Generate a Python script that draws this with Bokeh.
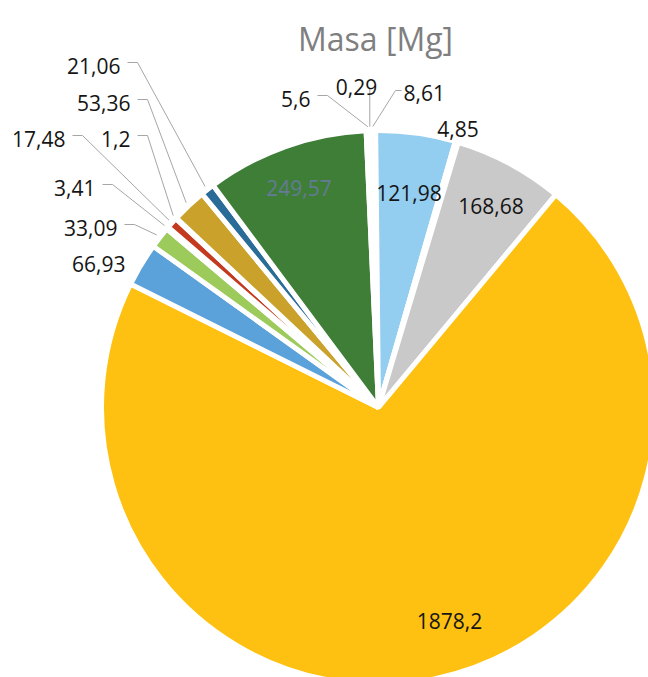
import math
from bokeh.plotting import figure
from bokeh.models import Range1d, ColumnDataSource
from bokeh.core.properties import value
from bokeh.embed import file_html
from bokeh.resources import INLINE

# ---------------- data ----------------
chart_title = "Masa [Mg]"
values = [0.29, 8.61, 121.98, 4.85, 168.68, 1878.2, 66.93, 33.09, 3.41,
          17.48, 1.2, 53.36, 21.06, 249.57, 5.6]
labels = ["0,29", "8,61", "121,98", "4,85", "168,68", "1878,2", "66,93",
          "33,09", "3,41", "17,48", "1,2", "53,36", "21,06", "249,57", "5,6"]

# ---------------- styles ----------------
colors = ["#F4F4F4", "#F4F4F4", "#93CDF0", "#F4F4F4", "#C9C9C9", "#FEC111",
          "#5AA2D9", "#9CCB5B", "#F4F4F4", "#C33A1E", "#F4F4F4", "#C9A12B",
          "#2A6C98", "#3F7E37", "#F4F4F4"]
label_colors = {13: "#647A96"}

# ---------------- layout (screen pixels) ----------------
W, H = 648, 677
CX, CY = 378, 407          # pie centre on screen
R = 277                    # wedge radius (white stroke eats ~2.5px)
R_LEADER = 281             # leader lines end just outside the rim
ROT = -1.8                 # first slice angle, degrees clockwise from top

# idx -> (x, baseline y, align, leader kind)
label_layout = {
    0: (356, 86, "center", "down"),
    1: (403, 92, "left", "right"),
    2: (408.5, 192, "center", None),
    3: (457.5, 128, "center", None),
    4: (490.5, 205, "center", None),
    5: (449, 620, "center", None),
    6: (125, 263, "right", None),
    7: (117, 227, "right", "left"),
    8: (95, 187, "right", "left"),
    9: (65, 138, "right", "left"),
    10: (130, 138, "right", "left"),
    11: (130, 102, "right", "left"),
    12: (120, 65, "right", "left"),
    13: (298.5, 187, "center", None),
    14: (310, 98, "right", "left"),
}


def px(sx):
    return sx


def py(sy):
    return H - sy


p = figure(width=W, height=H, output_backend="svg", toolbar_location=None,
           x_range=Range1d(0, W), y_range=Range1d(0, H), min_border=0)
p.axis.visible = False
p.grid.visible = False
p.outline_line_color = None
p.background_fill_color = "white"
p.border_fill_color = "white"

total = sum(values)
starts, ends, mids = [], [], []
acc = 0.0
for v in values:
    a = acc / total * 360 + ROT
    acc += v
    b = acc / total * 360 + ROT
    starts.append(math.radians(90 - b))
    ends.append(math.radians(90 - a))
    mids.append((a + b) / 2)

src = ColumnDataSource(dict(x=[px(CX)] * len(values), y=[py(CY)] * len(values),
                            start=starts, end=ends, color=colors))
p.wedge(x="x", y="y", radius=R, start_angle="start", end_angle="end",
        fill_color="color", line_color="white", line_width=5, source=src)

# leader lines
lxs, lys = [], []
for i, (x, yb, align, kind) in label_layout.items():
    if kind is None:
        continue
    m = math.radians(mids[i])
    ex = CX + math.sin(m) * R_LEADER
    ey = CY - math.cos(m) * R_LEADER
    if kind == "left":
        pts = [(x + 7, yb - 3), (x + 17, yb - 3), (ex, ey)]
    elif kind == "right":
        pts = [(x - 2, yb - 2), (x - 8, yb - 2), (ex, ey)]
    else:
        pts = [(ex, yb + 2), (ex, ey)]
    lxs.append([px(a) for a, _ in pts])
    lys.append([py(b) for _, b in pts])
p.multi_line(xs=lxs, ys=lys, line_color="#A6A6A6", line_width=1)

# data labels
for align in ("left", "center", "right"):
    idx = [i for i, l in label_layout.items() if l[2] == align]
    d = dict(x=[px(label_layout[i][0]) for i in idx],
             y=[py(label_layout[i][1]) for i in idx],
             t=[labels[i] for i in idx],
             c=[label_colors.get(i, "#151515") for i in idx])
    p.text(x="x", y="y", text="t", text_color="c", source=ColumnDataSource(d),
           text_font=value("Open Sans"), text_font_size="21px",
           text_align=align, text_baseline="alphabetic")

# title
p.text(x=[px(375)], y=[py(38)], text=[chart_title], text_font=value("Open Sans"),
       text_font_size="32px", text_color="#7F7F7F", text_align="center",
       text_baseline="alphabetic")

open("out.html", "w").write(file_html(p, INLINE))
